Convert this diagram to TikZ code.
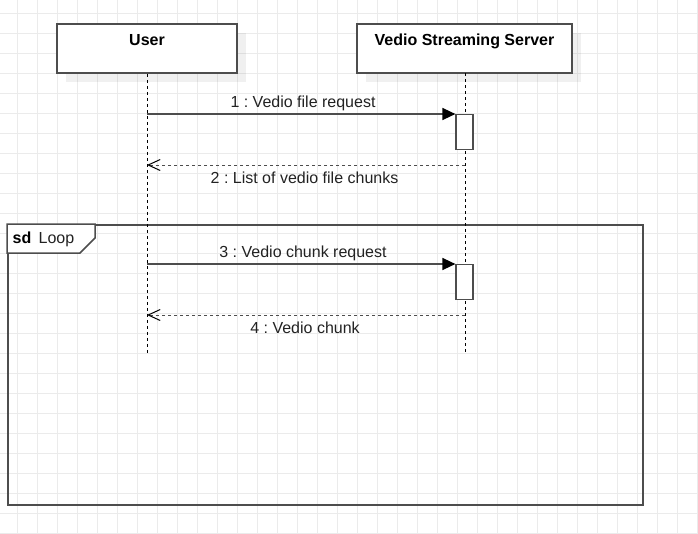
\documentclass[tikz,border=0pt]{standalone}
\usepackage{fontspec}
\setmainfont{Liberation Sans}
\usetikzlibrary{arrows.meta}
\definecolor{gridc}{HTML}{EBEBEB}
\definecolor{linec}{HTML}{4D4D4D}
\definecolor{txtc}{HTML}{222222}
\tikzset{
  gridline/.style={draw=gridc, line width=1pt},
  lifebox/.style={draw=linec, line width=1.5pt, fill=white, inner sep=0pt},
  boxshadow/.style={fill=black, fill opacity=0.06, draw=none, inner sep=0pt},
  lifeline/.style={draw=black, line width=1pt, dash pattern=on 3pt off 3pt},
  actbox/.style={draw=linec, line width=1.2pt, fill=white, inner sep=0pt, minimum width=17pt},
  msg/.style={draw=linec, line width=1.5pt, -{Triangle[length=13pt,width=12pt,fill=black,color=black]}},
  ret/.style={draw=linec, line width=1pt, dash pattern=on 3pt off 3pt, -{Straight Barb[length=12pt,width=11pt,line width=1pt,color=black]}},
  lbl/.style={anchor=base, inner sep=0pt, text=txtc, font=\fontsize{16}{19}\selectfont\frenchspacing},
  hdr/.style={anchor=base, inner sep=0pt, text=black, font=\fontsize{16}{19}\selectfont\bfseries},
  framebox/.style={draw=linec, line width=1.5pt, inner sep=0pt},
}
\begin{document}
\begin{tikzpicture}[x=1pt,y=-1pt]
\useasboundingbox (0,0) rectangle (698,533);
\fill[white] (0,0) rectangle (698,533);
% grid
\foreach \x in {17,37,...,697} \draw[gridline] (\x,0) -- (\x,533);
\foreach \y in {13,33,...,533} \draw[gridline] (0,\y) -- (698,\y);

% loop frame
\node[framebox, minimum width=635pt, minimum height=280pt, anchor=north west] (loop) at (7,224) {};
\draw[draw=linec, line width=1.5pt, fill=white] (loop.north west) -- (95,224) -- (95,238) -- (80,253) -- (7,253) -- cycle;
\node[hdr, anchor=base west] (sd) at (12.5,243.5) {sd};
\node[lbl, anchor=base west] (looplbl) at (38.5,243.5) {Loop};

% shadows
\node[boxshadow, minimum width=180pt, minimum height=49pt] (usersh) at (156,57.5) {};
\node[boxshadow, minimum width=215pt, minimum height=49pt] (serversh) at (473.5,57.5) {};

% lifeline boxes
\node[lifebox, minimum width=180pt, minimum height=49pt] (user) at (147,48.5) {};
\node[lifebox, minimum width=215pt, minimum height=49pt] (server) at (464.5,48.5) {};
\node[hdr] (userlbl) at (147,45) {User};
\node[hdr] (serverlbl) at (464.5,45) {Vedio Streaming Server};

% lifelines
\coordinate (uend) at (147,353);
\coordinate (send) at (465,353);
\draw[lifeline] (user.south) -- (uend);
\draw[lifeline] (465,73) -- (send);

% activation boxes
\node[actbox, minimum height=35pt, anchor=north] (act1) at (464.5,114) {};
\node[actbox, minimum height=35pt, anchor=north] (act2) at (464.5,264) {};

% messages
\coordinate (u1) at (147,114);
\coordinate (u2) at (147,165);
\coordinate (s2) at (465,165);
\coordinate (u3) at (147,264);
\coordinate (u4) at (147,315);
\coordinate (s4) at (465,315);

\draw[msg] (u1) -- (act1.north west);
\draw[ret] (s2) -- (u2);
\draw[msg] (u3) -- (act2.north west);
\draw[ret] (s4) -- (u4);

\node[lbl] (m1) at (303,107) {1 : Vedio file request};
\node[lbl] (m2) at (304.5,183.3) {2 : List of vedio file chunks};
\node[lbl] (m3) at (303,257) {3 : Vedio chunk request};
\node[lbl] (m4) at (305,333) {4 : Vedio chunk};
\end{tikzpicture}
\end{document}
